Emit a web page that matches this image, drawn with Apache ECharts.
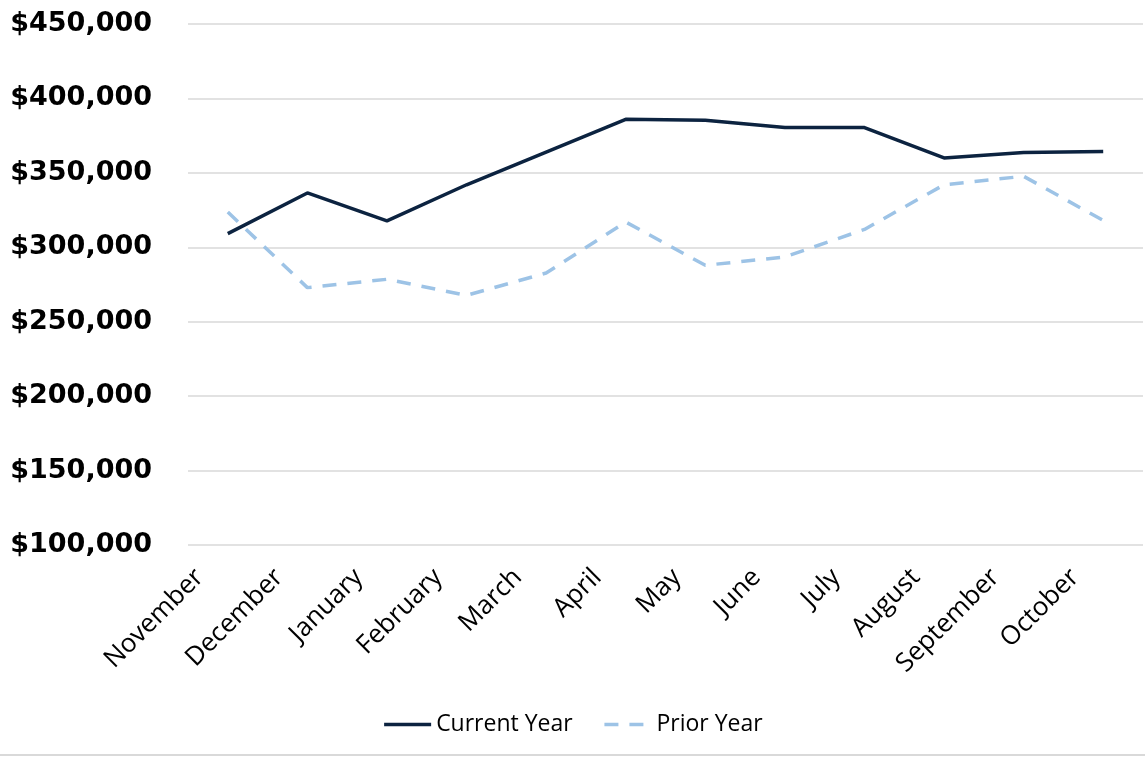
<!DOCTYPE html>
<html>
<head>
<meta charset="utf-8">
<script src="https://cdn.jsdelivr.net/npm/echarts@6/dist/echarts.min.js"></script>
<style>
html,body{margin:0;padding:0;background:#fff;}
#chart{width:1145px;height:757px;}
</style>
</head>
<body>
<div id="chart"></div>
<script>
const months = ["November","December","January","February","March","April","May","June","July","August","September","October"];
const currentYear = [309200, 336500, 317700, 342000, 364000, 386000, 385300, 380400, 380400, 360000, 363600, 364300];
const priorYear = [323700, 272900, 278500, 267700, 282700, 317000, 287900, 293500, 312000, 342000, 347700, 318000];
const yTicks = { min: 100000, max: 450000, interval: 50000 };

const chart = echarts.init(document.getElementById('chart'));
chart.setOption({
  backgroundColor: '#fff',
  animation: false,
  grid: { left: 188, right: 2, top: 24, bottom: 212 },
  legend: {
    bottom: 16,
    left: 'center',
    itemWidth: 47,
    itemHeight: 14,
    itemGap: 30,
    itemStyle: { opacity: 0 },
    lineStyle: { width: 3.5 },
    textStyle: { fontFamily: 'Open Sans', fontSize: 23, color: '#000' },
    data: ['Current Year', 'Prior Year']
  },
  xAxis: {
    type: 'category',
    data: months,
    boundaryGap: true,
    axisLine: { show: false },
    axisTick: { show: false },
    axisLabel: {
      rotate: 45,
      interval: 0,
      margin: 0,
      padding: [0, 40, 0, 0],
      fontFamily: 'Open Sans',
      fontSize: 26,
      color: '#000'
    }
  },
  yAxis: {
    type: 'value',
    min: yTicks.min,
    max: yTicks.max,
    interval: yTicks.interval,
    axisLine: { show: false },
    axisTick: { show: false },
    splitLine: { lineStyle: { color: '#d9d9d9', width: 1.5 } },
    axisLabel: {
      margin: 36,
      fontFamily: 'DejaVu Sans',
      fontWeight: 'bold',
      fontSize: 27,
      color: '#000',
      formatter: v => '$' + v.toLocaleString('en-US')
    }
  },
  series: [
    {
      name: 'Current Year',
      type: 'line',
      data: currentYear,
      symbol: 'none',
      lineStyle: { color: '#0c2340', width: 3.5 },
      itemStyle: { color: '#0c2340' }
    },
    {
      name: 'Prior Year',
      type: 'line',
      data: priorYear,
      symbol: 'none',
      lineStyle: { color: '#9dc3e6', width: 3.5, type: [14, 11] },
      itemStyle: { color: '#9dc3e6' }
    }
  ],
  graphic: [
    { type: 'line', shape: { x1: 0, y1: 755, x2: 1145, y2: 755 }, style: { stroke: '#d9d9d9', lineWidth: 2 } }
  ]
});
</script>
</body>
</html>
